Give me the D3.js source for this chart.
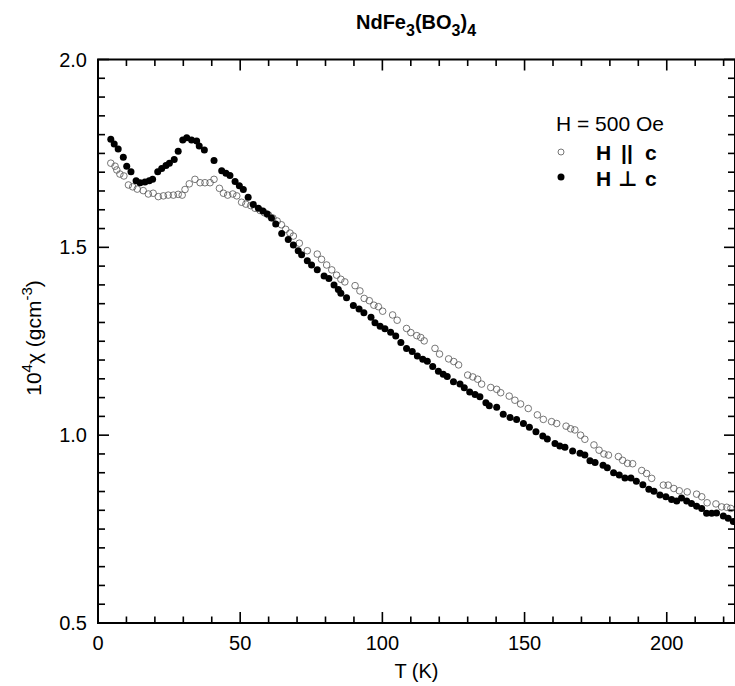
<!DOCTYPE html>
<html>
<head>
<meta charset="utf-8">
<script src="https://cdn.jsdelivr.net/npm/d3@7.9.0/dist/d3.min.js"></script>
<style>
  html, body { margin: 0; padding: 0; background: #fff; overflow: hidden; }
  svg { display: block; }
  svg text { font-family: "Liberation Sans", Arial, Helvetica, sans-serif; }
</style>
</head>
<body>
<svg width="735" height="686"></svg>
<script>
// H || c (open circles)
const tPar = [4.5, 6.0, 6.6, 7.7, 9.1, 10.7, 12.2, 13.8, 15.9, 17.7, 19.4, 21.2, 23.0, 24.7, 26.5, 28.2, 29.6,
  30.6, 32.1, 34.1, 35.9, 37.6, 39.4, 40.8, 42.7, 44.1, 45.6, 47.4, 48.8, 50.5, 52.0, 53.7, 55.2, 57.0, 58.5,
  60.0, 61.5, 63.0, 64.5, 66.0, 67.5, 68.7, 70.8, 73.6, 77.1, 78.6, 80.4, 82.2, 83.9, 85.4, 86.8, 90.4, 92.1,
  93.6, 95.4, 97.0, 98.6, 100.1, 103.6, 105.2, 108.5, 110.0, 112.1, 113.5, 114.7, 118.5, 120.1, 123.3, 125.1,
  126.8, 130.0, 131.8, 133.5, 134.9, 138.1, 140.2, 141.6, 144.6, 146.6, 148.6, 151.3, 154.5, 156.6, 159.5,
  161.3, 164.6, 166.2, 167.7, 169.7, 171.2, 174.4, 176.2, 177.9, 179.5, 183.0, 184.5, 186.2, 188.0, 191.2,
  192.9, 194.7, 198.8, 200.5, 202.5, 204.4, 207.2, 210.5, 212.3, 214.2, 217.3, 219.3, 221.1, 222.5];
const chiPar = [1.724, 1.716, 1.706, 1.695, 1.690, 1.666, 1.661, 1.655, 1.651, 1.642, 1.644, 1.635, 1.637, 1.639,
  1.639, 1.641, 1.639, 1.654, 1.669, 1.681, 1.672, 1.672, 1.672, 1.681, 1.657, 1.644, 1.639, 1.642, 1.637,
  1.620, 1.615, 1.611, 1.604, 1.598, 1.592, 1.586, 1.578, 1.570, 1.560, 1.548, 1.538, 1.530, 1.511, 1.491,
  1.482, 1.468, 1.453, 1.440, 1.426, 1.415, 1.408, 1.398, 1.384, 1.364, 1.358, 1.346, 1.342, 1.330, 1.320,
  1.306, 1.284, 1.273, 1.265, 1.260, 1.251, 1.231, 1.216, 1.203, 1.196, 1.187, 1.160, 1.155, 1.149, 1.136,
  1.127, 1.122, 1.113, 1.104, 1.093, 1.083, 1.071, 1.054, 1.042, 1.036, 1.031, 1.024, 1.017, 1.014, 1.000,
  0.989, 0.974, 0.960, 0.950, 0.947, 0.943, 0.933, 0.925, 0.924, 0.906, 0.898, 0.885, 0.867, 0.867, 0.858,
  0.852, 0.849, 0.843, 0.836, 0.820, 0.817, 0.809, 0.808, 0.805];

// H perpendicular to c (filled circles)
const tPerp = [4.5, 5.7, 7.1, 8.9, 10.1, 11.6, 13.4, 14.8, 16.5, 18.0, 19.2, 21.0, 22.4, 23.9, 25.1, 26.8, 28.2,
  29.8, 31.2, 32.9, 34.7, 35.6, 37.4, 40.8, 43.5, 45.0, 46.4, 48.2, 49.7, 51.1, 52.8, 54.6, 56.4, 58.0, 59.5,
  61.0, 62.5, 64.6, 66.9, 68.7, 70.4, 71.6, 73.6, 75.1, 77.1, 79.5, 81.2, 83.0, 84.5, 85.4, 87.4, 89.8, 91.8,
  93.5, 96.0, 97.4, 99.2, 100.9, 102.9, 104.7, 106.5, 108.5, 110.5, 112.3, 114.2, 115.8, 117.7, 119.7, 121.4,
  122.8, 125.0, 127.3, 128.8, 130.7, 132.6, 134.3, 136.4, 137.6, 140.2, 142.5, 144.9, 147.2, 149.6, 151.7,
  154.0, 156.4, 158.0, 160.7, 162.4, 164.2, 166.9, 169.5, 171.2, 173.0, 174.8, 177.6, 179.1, 181.3, 183.3,
  185.3, 187.4, 189.3, 191.6, 193.7, 195.5, 197.6, 199.7, 201.7, 203.5, 205.2, 207.0, 208.7, 210.5, 212.3,
  214.0, 215.8, 217.5, 219.9, 221.6, 223.4];
const chiPerp = [1.788, 1.775, 1.762, 1.740, 1.716, 1.701, 1.677, 1.672, 1.674, 1.677, 1.681, 1.701, 1.710, 1.718,
  1.724, 1.734, 1.756, 1.786, 1.792, 1.786, 1.783, 1.770, 1.759, 1.731, 1.704, 1.697, 1.691, 1.675, 1.664,
  1.654, 1.633, 1.614, 1.604, 1.597, 1.589, 1.578, 1.562, 1.537, 1.521, 1.506, 1.491, 1.480, 1.464, 1.453,
  1.440, 1.424, 1.417, 1.400, 1.388, 1.378, 1.366, 1.345, 1.336, 1.326, 1.314, 1.299, 1.290, 1.283, 1.274,
  1.264, 1.247, 1.231, 1.223, 1.211, 1.202, 1.197, 1.183, 1.170, 1.162, 1.156, 1.142, 1.136, 1.126, 1.115,
  1.108, 1.102, 1.086, 1.078, 1.074, 1.056, 1.047, 1.042, 1.031, 1.021, 1.009, 0.998, 0.990, 0.978, 0.971,
  0.968, 0.958, 0.952, 0.947, 0.932, 0.927, 0.920, 0.913, 0.900, 0.894, 0.886, 0.886, 0.877, 0.868, 0.856,
  0.851, 0.841, 0.836, 0.829, 0.825, 0.833, 0.825, 0.818, 0.811, 0.805, 0.792, 0.792, 0.793, 0.785, 0.779,
  0.770];

const xMajor = [0, 50, 100, 150, 200];
const xMinor = [10, 20, 30, 40, 60, 70, 80, 90, 110, 120, 130, 140, 160, 170, 180, 190, 210, 220];
const yMajor = [0.5, 1.0, 1.5, 2.0];
const yMinor = [0.55, 0.6, 0.65, 0.7, 0.75, 0.8, 0.85, 0.9, 0.95, 1.05, 1.1, 1.15, 1.2, 1.25, 1.3, 1.35,
  1.4, 1.45, 1.55, 1.6, 1.65, 1.7, 1.75, 1.8, 1.85, 1.9, 1.95];

const margin = { top: 59.5, right: 0, bottom: 63, left: 98 },
  width = 735 - margin.left - margin.right,
  height = 686 - margin.top - margin.bottom;

const svg = d3.select("svg");
const g = svg.append("g").attr("transform", `translate(${margin.left},${margin.top})`);

const x = d3.scaleLinear().domain([0, 224]).range([0, width]);
const y = d3.scaleLinear().domain([0.5, 2.0]).range([height, 0]);

// inward ticks on all four sides, drawn as thin filled rects
const tw = 1.6;
function xTicks(vals, len) {
  const tg = g.append("g").attr("fill", "#000");
  tg.selectAll(".b").data(vals).join("rect").attr("class", "b")
    .attr("x", (d) => x(d) - tw / 2).attr("y", height - len)
    .attr("width", tw).attr("height", len);
  tg.selectAll(".t").data(vals).join("rect").attr("class", "t")
    .attr("x", (d) => x(d) - tw / 2).attr("y", 0)
    .attr("width", tw).attr("height", len);
}
function yTicks(vals, len) {
  const tg = g.append("g").attr("fill", "#000");
  tg.selectAll(".l").data(vals).join("rect").attr("class", "l")
    .attr("x", 0).attr("y", (d) => y(d) - tw / 2)
    .attr("width", len).attr("height", tw);
  tg.selectAll(".r").data(vals).join("rect").attr("class", "r")
    .attr("x", width - len).attr("y", (d) => y(d) - tw / 2)
    .attr("width", len).attr("height", tw);
}
xTicks(xMajor, 11);
xTicks(xMinor, 6.5);
yTicks(yMajor, 11);
yTicks(yMinor, 7);

// tick labels
g.append("g").selectAll("text").data(xMajor).join("text")
  .attr("x", (d) => x(d)).attr("y", height + 27)
  .attr("text-anchor", "middle").attr("font-size", 20).text((d) => d);
g.append("g").selectAll("text").data(yMajor).join("text")
  .attr("x", -11).attr("y", (d) => y(d) + 7)
  .attr("text-anchor", "end").attr("font-size", 20).text((d) => d.toFixed(1));

// frame
g.append("rect")
  .attr("width", width).attr("height", height)
  .attr("fill", "none").attr("stroke", "#000").attr("stroke-width", 2);

// data
const par = tPar.map((t, i) => ({ t, v: chiPar[i] }));
const perp = tPerp.map((t, i) => ({ t, v: chiPerp[i] }));

g.append("g").selectAll("circle").data(par).join("circle")
  .attr("cx", (d) => x(d.t)).attr("cy", (d) => y(d.v)).attr("r", 3.3)
  .attr("fill", "none").attr("stroke", "#555").attr("stroke-width", 0.8);

g.append("g").selectAll("circle").data(perp).join("circle")
  .attr("cx", (d) => x(d.t)).attr("cy", (d) => y(d.v)).attr("r", 3.5)
  .attr("fill", "#000");

// title
const title = svg.append("text").attr("x", 416).attr("y", 29)
  .attr("text-anchor", "middle").attr("font-size", 20).attr("font-weight", "bold");
title.append("tspan").text("NdFe");
title.append("tspan").attr("dy", 7).attr("font-size", 16).text("3");
title.append("tspan").attr("dy", -7).text("(BO");
title.append("tspan").attr("dy", 7).attr("font-size", 16).text("3");
title.append("tspan").attr("dy", -7).text(")");
title.append("tspan").attr("dy", 7).attr("font-size", 16).text("4");

// x label
svg.append("text").attr("x", margin.left + width / 2).attr("y", 678)
  .attr("text-anchor", "middle").attr("font-size", 20).text("T (K)");

// y label
const yl = svg.append("text").attr("transform", "translate(41,338) rotate(-90)")
  .attr("text-anchor", "middle").attr("font-size", 21);
yl.append("tspan").text("10");
yl.append("tspan").attr("dy", -9).attr("font-size", 15).text("4");
yl.append("tspan").attr("dy", 9).text("χ (gcm");
yl.append("tspan").attr("dy", -9).attr("font-size", 15).text("-3");
yl.append("tspan").attr("dy", 9).text(")");

// legend
svg.append("text").attr("x", 556).attr("y", 131).attr("font-size", 21).text("H = 500 Oe");
svg.append("circle").attr("cx", 561).attr("cy", 152).attr("r", 3)
  .attr("fill", "none").attr("stroke", "#555").attr("stroke-width", 0.8);
svg.append("circle").attr("cx", 561).attr("cy", 177).attr("r", 3.5).attr("fill", "#000");
const lg = svg.append("g").attr("font-size", 21).attr("font-weight", "bold");
lg.append("text").attr("x", 596).attr("y", 160).text("H");
lg.append("text").attr("x", 621).attr("y", 160).text("||");
lg.append("text").attr("x", 645).attr("y", 160).text("c");
lg.append("text").attr("x", 596).attr("y", 186).text("H");
lg.append("text").attr("x", 618).attr("y", 186)
  .style("font-family", "'DejaVu Sans', sans-serif").text("⊥");
lg.append("text").attr("x", 645).attr("y", 186).text("c");
</script>
</body>
</html>
